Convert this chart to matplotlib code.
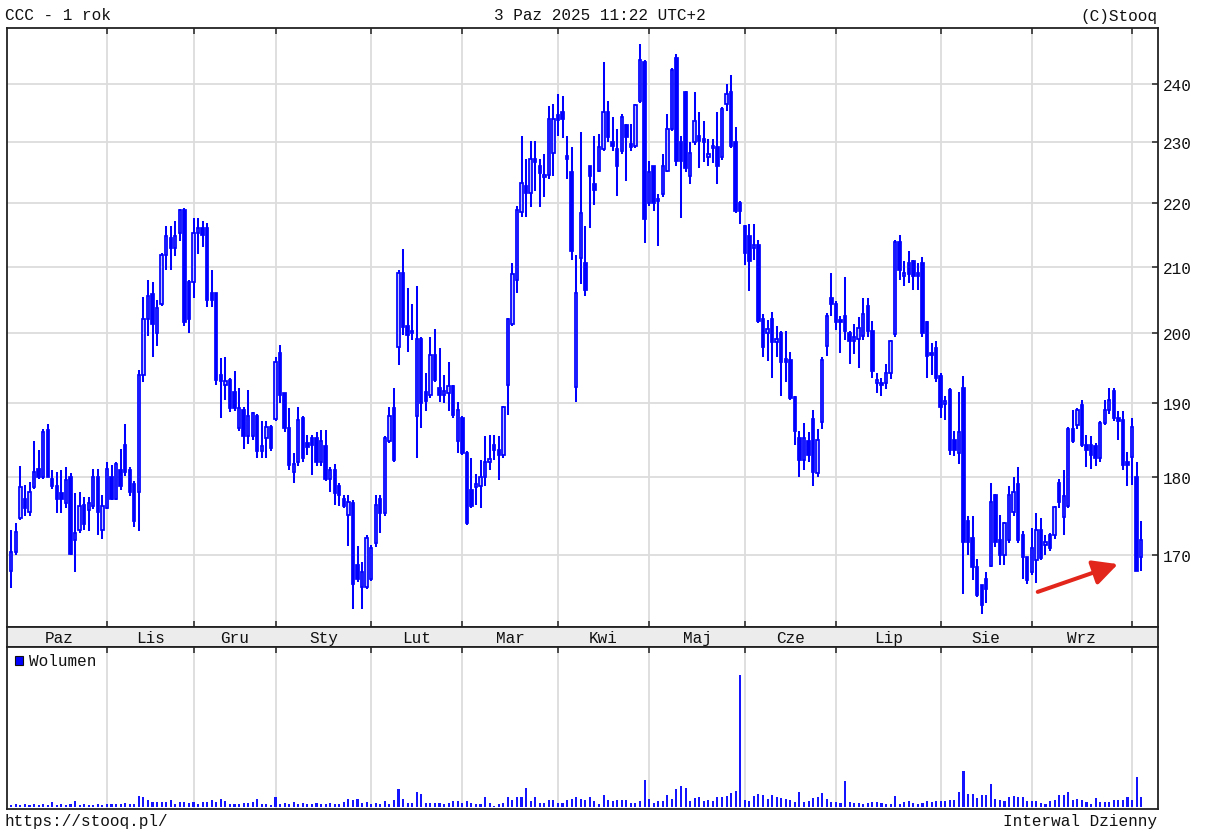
import numpy as np
import pandas as pd
import matplotlib
matplotlib.use("Agg")
import matplotlib.pyplot as plt
from matplotlib.patches import Rectangle
from matplotlib.ticker import NullLocator, FixedLocator, FixedFormatter

plt.rcParams['font.family'] = ['Liberation Mono', 'DejaVu Sans Mono']

# ---------------- data ----------------
TITLE = "CCC - 1 rok"
STAMP = "3 Paz 2025 11:22 UTC+2"
COPYRIGHT = "(C)Stooq"
URL = "https://stooq.pl/"
INTERVAL = "Interwal Dzienny"
VOLUME_LABEL = "Wolumen"

START, END = "2024-10-03", "2025-10-03"
HOLIDAYS = ["2024-11-01", "2024-11-11", "2024-12-24", "2024-12-25", "2024-12-26",
            "2024-12-31", "2025-01-01", "2025-01-06", "2025-04-18", "2025-04-21",
            "2025-05-01", "2025-06-19", "2025-08-15"]
MONTH_NAMES = {10: "Paz", 11: "Lis", 12: "Gru", 1: "Sty", 2: "Lut", 3: "Mar",
               4: "Kwi", 5: "Maj", 6: "Cze", 7: "Lip", 8: "Sie", 9: "Wrz"}
PRICE_TICKS = [170, 180, 190, 200, 210, 220, 230, 240]

OPEN = [
    168.0, 170.4, 174.7, 177.2, 175.5, 178.7, 181.1, 180.0, 186.3, 179.8, 178.9, 177.9, 176.6, 180.0, 171.9, 173.2, 176.4, 175.7, 176.2, 180.0, 173.2,
    176.0, 180.0, 177.2, 180.9, 184.3, 180.9, 179.1, 178.1, 194.0, 202.1, 205.8, 200.1, 204.3, 211.8, 214.5, 212.9, 215.3, 218.9, 207.6,
    207.6, 215.3, 216.0, 216.1, 206.0, 206.0, 194.0, 192.6, 193.3, 191.6, 186.6, 189.1, 185.5, 185.5, 188.2, 183.5, 185.2, 186.8,
    187.9, 197.1, 191.4, 186.6, 180.7, 182.0, 188.0, 184.5, 185.2, 185.2, 182.0, 184.1, 179.8, 180.9, 178.9, 177.2, 175.1, 176.6, 168.8, 166.1, 166.1,
    167.1, 171.5, 177.2, 175.3, 184.8, 189.3, 198.0, 209.0, 201.1, 200.2, 188.2, 199.2, 191.6, 191.2, 196.8, 192.1, 191.2, 191.5, 192.4, 184.8,
    188.0, 183.2, 178.3, 178.7, 178.9, 180.0, 182.0, 184.3, 183.6, 183.0, 192.5, 201.4, 208.0, 218.6, 222.8, 221.7, 227.3, 226.0, 224.2, 224.6, 228.2,
    234.6, 235.1, 227.8, 225.0, 192.3, 211.3, 210.5, 226.0, 223.1, 225.3, 228.9, 235.1, 230.0, 228.9, 228.6, 232.9, 229.7, 229.4, 237.1, 244.0,
    220.0, 226.1, 220.3, 221.4, 225.3, 232.3, 244.6, 230.0, 238.6, 224.4, 230.0, 231.1, 230.6, 227.5, 229.0, 229.2, 227.5, 236.6, 238.6, 230.0, 220.0,
    216.3, 214.7, 212.9, 213.4, 202.1, 200.0, 202.1, 198.7, 200.1, 196.1, 196.1, 190.9, 185.2, 182.3, 184.8, 187.9, 180.5, 187.4, 198.1, 205.3,
    204.3, 201.8, 202.6, 200.1, 198.9, 199.1, 199.6, 204.1, 200.3, 192.8, 192.8, 192.8, 194.3, 199.9, 213.9, 208.5, 210.5, 210.8, 209.0, 210.5, 201.6, 197.0, 197.9,
    193.8, 189.9, 191.9, 185.0, 183.2, 192.1, 174.3, 172.1, 168.6, 166.3, 167.1, 168.7, 177.7, 171.9, 170.0, 171.9, 175.5, 179.1, 172.6, 169.8,
    167.9, 169.4, 173.2, 171.3, 172.6, 172.6, 179.3, 174.8, 176.3, 186.4, 187.0, 189.8, 184.3, 184.3, 184.1, 182.5, 187.3, 189.1, 191.7, 188.0, 187.7, 182.0,
    182.7, 180.0, 169.8]

HIGH = [
    173.2, 174.0, 181.5, 179.0, 179.4, 184.8, 183.6, 186.5, 187.1, 180.9, 180.7, 180.9, 181.4, 180.5, 177.9, 178.1, 177.4, 177.4, 181.1, 181.1, 177.7,
    182.0, 181.6, 182.0, 183.8, 187.2, 181.4, 179.5, 194.7, 205.4, 208.0, 207.6, 205.0, 212.1, 216.3, 216.3, 217.1, 219.0, 219.2, 208.0,
    217.6, 217.6, 217.1, 216.8, 209.5, 206.0, 196.4, 196.6, 193.5, 194.5, 192.1, 189.5, 191.9, 188.8, 188.5, 187.5, 187.5, 187.0,
    196.6, 198.3, 191.5, 189.3, 183.2, 189.5, 188.2, 185.7, 185.7, 186.1, 186.3, 186.3, 181.4, 181.8, 179.3, 177.7, 177.7, 177.0, 171.1, 169.2, 172.6,
    171.3, 177.7, 177.7, 185.5, 189.5, 192.1, 209.5, 212.7, 206.8, 204.3, 207.0, 199.4, 194.3, 199.4, 200.6, 197.8, 194.0, 195.8, 192.6, 190.2,
    188.2, 183.5, 182.5, 180.4, 182.3, 185.5, 185.7, 185.7, 185.5, 189.7, 202.3, 210.5, 219.5, 231.1, 227.2, 230.3, 230.3, 227.3, 228.0, 236.3, 236.6,
    238.3, 238.0, 231.1, 229.2, 211.8, 231.7, 216.3, 226.1, 231.1, 231.4, 244.0, 237.1, 234.3, 232.3, 234.9, 233.1, 233.1, 236.6, 247.1, 244.3,
    226.9, 226.1, 221.4, 228.0, 234.9, 242.9, 245.4, 231.1, 238.9, 230.0, 238.6, 235.1, 233.7, 230.6, 230.6, 235.1, 236.0, 240.0, 241.7, 232.6, 220.3,
    216.5, 216.7, 216.6, 214.2, 202.8, 202.0, 203.1, 201.0, 200.3, 200.4, 197.3, 191.0, 186.2, 187.3, 186.1, 189.1, 186.4, 196.6, 203.0, 209.0,
    204.8, 202.6, 208.4, 200.3, 201.4, 202.4, 205.3, 205.3, 201.8, 194.2, 193.5, 195.6, 199.0, 214.2, 215.0, 210.8, 212.4, 211.0, 210.5, 211.5, 201.8, 198.6, 198.9,
    194.3, 191.0, 192.1, 186.2, 191.6, 193.8, 175.0, 175.0, 169.5, 166.3, 167.9, 179.3, 177.8, 175.1, 174.2, 178.8, 180.0, 181.3, 173.0, 169.8,
    173.4, 175.3, 174.7, 172.6, 172.8, 176.3, 179.8, 180.9, 186.8, 189.1, 189.3, 190.5, 185.7, 185.5, 184.5, 187.5, 190.5, 192.1, 192.1, 189.0, 189.0, 183.4,
    188.0, 182.0, 174.3]

LOW = [
    166.0, 170.0, 174.5, 175.0, 175.0, 178.5, 179.8, 179.8, 180.0, 178.5, 175.3, 175.3, 176.0, 170.0, 167.9, 172.8, 173.2, 173.0, 175.8, 172.6, 172.0,
    175.8, 177.0, 177.0, 178.3, 180.2, 177.5, 173.6, 173.0, 193.0, 199.6, 196.6, 198.2, 204.0, 209.5, 209.5, 211.6, 214.0, 201.0, 200.1,
    205.3, 212.0, 213.0, 203.9, 203.9, 192.5, 188.0, 190.5, 188.8, 189.0, 186.2, 183.7, 184.4, 185.0, 182.6, 182.6, 182.6, 183.5,
    187.5, 190.0, 186.0, 181.0, 179.3, 181.5, 182.0, 183.0, 180.3, 181.5, 181.5, 179.5, 178.1, 176.4, 176.2, 176.0, 171.1, 163.4, 166.7, 163.4, 165.8,
    166.8, 171.0, 172.8, 175.0, 184.5, 182.0, 195.4, 199.7, 197.3, 199.0, 182.5, 186.6, 189.0, 190.8, 193.0, 190.2, 190.0, 189.0, 188.0, 183.2,
    183.0, 173.8, 176.0, 176.4, 176.0, 178.9, 181.0, 182.3, 179.6, 182.5, 188.4, 201.0, 206.0, 217.8, 217.8, 219.4, 222.0, 219.4, 221.0, 224.0, 224.4,
    231.0, 230.8, 223.9, 211.1, 190.2, 207.3, 205.5, 216.0, 219.7, 225.0, 228.5, 230.0, 228.5, 221.1, 228.0, 223.6, 228.5, 229.0, 236.8, 213.7,
    219.5, 218.7, 213.2, 221.0, 225.0, 232.0, 226.0, 217.6, 225.0, 223.1, 229.5, 225.8, 226.7, 226.0, 226.5, 223.1, 227.0, 235.4, 229.0, 218.4, 216.6,
    210.3, 206.3, 211.0, 201.5, 196.6, 196.0, 193.5, 196.5, 191.0, 193.0, 190.5, 184.3, 180.0, 180.9, 182.0, 178.9, 180.0, 186.4, 196.7, 202.5,
    200.5, 197.1, 199.0, 195.6, 197.0, 195.0, 199.0, 199.5, 193.6, 191.4, 191.0, 192.0, 193.4, 199.5, 208.0, 207.0, 207.5, 206.5, 206.5, 199.5, 193.6, 194.0, 193.0,
    188.0, 187.7, 183.0, 182.8, 181.8, 165.3, 170.0, 167.0, 164.9, 162.8, 164.1, 168.5, 171.0, 168.8, 168.8, 171.5, 175.0, 171.5, 167.1, 166.5,
    167.5, 166.6, 169.4, 170.0, 170.5, 172.0, 176.0, 172.6, 176.0, 184.5, 186.5, 184.0, 181.4, 181.1, 181.5, 182.0, 187.0, 188.5, 187.5, 185.0, 181.0, 178.9,
    179.0, 168.0, 168.1]

CLOSE = [
    170.4, 172.9, 178.7, 176.0, 178.1, 180.7, 180.0, 186.1, 180.0, 178.9, 177.2, 177.2, 179.6, 170.2, 172.8, 176.2, 173.9, 176.6, 180.0, 175.5, 176.2,
    181.1, 177.2, 181.8, 178.9, 180.7, 178.1, 174.3, 194.0, 202.1, 205.6, 201.3, 203.8, 211.8, 214.7, 212.9, 214.7, 218.9, 201.6, 202.1,
    215.3, 216.0, 215.0, 205.0, 205.0, 193.3, 193.1, 193.1, 189.3, 189.3, 189.3, 185.5, 188.2, 188.6, 183.5, 184.1, 186.8, 183.9,
    195.9, 191.2, 186.6, 181.6, 181.8, 187.7, 182.5, 184.0, 184.3, 182.0, 184.8, 179.8, 180.9, 177.9, 177.7, 176.2, 176.8, 166.5, 167.1, 167.9, 172.1,
    170.9, 176.4, 175.3, 185.2, 188.2, 182.3, 209.0, 200.9, 199.7, 200.0, 199.2, 190.0, 190.3, 196.8, 193.3, 191.2, 191.7, 192.4, 188.4, 189.1,
    183.2, 174.0, 176.2, 178.9, 180.0, 182.0, 182.2, 183.6, 183.0, 189.5, 202.1, 208.8, 218.9, 223.3, 221.7, 227.2, 226.7, 224.9, 224.6, 234.0, 234.0,
    233.8, 234.0, 227.2, 212.4, 206.0, 218.4, 206.5, 224.4, 222.2, 229.2, 235.1, 230.9, 229.4, 226.1, 234.3, 230.9, 229.3, 236.4, 244.3, 217.4,
    225.0, 220.0, 220.6, 226.1, 232.3, 242.6, 226.9, 226.9, 225.8, 228.3, 233.7, 230.3, 230.0, 228.1, 229.4, 226.1, 235.7, 238.3, 229.4, 218.7, 218.7,
    212.1, 210.8, 213.2, 201.8, 198.0, 200.6, 198.7, 199.2, 195.9, 195.9, 190.7, 186.2, 182.3, 185.2, 183.0, 180.7, 185.0, 196.1, 202.6, 204.3,
    201.6, 201.6, 200.3, 198.9, 199.4, 200.8, 202.8, 200.3, 194.5, 193.3, 192.5, 194.2, 198.9, 213.9, 209.5, 209.0, 208.8, 208.5, 208.6, 200.1, 196.7, 196.8, 193.6,
    189.5, 190.2, 183.6, 183.6, 186.1, 171.7, 171.7, 168.6, 165.1, 163.9, 165.9, 176.8, 171.7, 170.0, 174.0, 177.7, 178.0, 171.9, 169.8, 166.9,
    170.9, 173.2, 169.6, 171.7, 170.9, 176.1, 176.8, 177.5, 186.4, 184.8, 189.1, 184.3, 183.6, 182.9, 182.5, 187.3, 189.1, 190.5, 188.0, 187.5, 181.6, 181.6,
    186.8, 168.1, 171.9]

# volume (tys. szt.)
VOLUME = [
    20, 30, 20, 30, 20, 30, 20, 30, 20, 50, 20, 30, 20, 30, 60, 20, 30, 20, 20, 30, 20,
    30, 30, 30, 30, 40, 30, 30, 110, 100, 70, 50, 50, 50, 50, 70, 30, 50, 50, 40,
    50, 30, 50, 50, 70, 50, 80, 60, 30, 30, 30, 40, 40, 50, 80, 30, 30, 20,
    100, 30, 40, 30, 50, 30, 40, 30, 30, 40, 30, 30, 40, 30, 30, 50, 80, 70, 80, 40, 50,
    27, 43, 33, 60, 33, 73, 180, 77, 43, 43, 150, 133, 43, 43, 43, 43, 27, 43, 60, 60,
    43, 60, 43, 33, 33, 100, 43, 10, 27, 43, 100, 73, 100, 100, 190, 60, 100, 43, 43, 73, 73,
    43, 43, 73, 83, 100, 83, 73, 100, 57, 27, 117, 73, 60, 73, 73, 73, 43, 43, 60, 270,
    83, 43, 60, 60, 117, 83, 183, 207, 193, 60, 93, 100, 60, 73, 60, 100, 100, 110, 140, 160, 1320,
    73, 60, 110, 133, 117, 83, 117, 100, 93, 83, 73, 50, 150, 50, 60, 93, 100, 140, 83, 50,
    50, 43, 257, 50, 43, 43, 33, 43, 50, 50, 43, 33, 27, 110, 33, 50, 60, 43, 27, 43, 60, 50, 60,
    60, 60, 67, 73, 150, 360, 133, 133, 93, 117, 117, 227, 83, 73, 60, 100, 110, 100, 100, 60,
    60, 60, 43, 33, 60, 67, 117, 117, 150, 73, 83, 67, 50, 33, 93, 50, 50, 50, 73, 73, 73, 100,
    67, 300, 100]

# ---------------- preparation ----------------
n = len(CLOSE)
dates = pd.bdate_range(START, END)
dates = dates[~dates.isin(pd.to_datetime(HOLIDAYS))][:n]
x = np.arange(n)
O = np.array(OPEN, float)
C = np.array(CLOSE, float)
Hh = np.maximum.reduce([np.array(HIGH, float), O, C])
Ll = np.minimum.reduce([np.array(LOW, float), O, C])
V = np.array(VOLUME, float)

mid = np.asarray(dates.year * 12 + dates.month)
starts = [0] + [i for i in range(1, len(mid)) if mid[i] != mid[i - 1]]
grid_pos = starts[1:]
labels = []
for k in range(len(starts) - 1):
    s, e = starts[k], starts[k + 1]
    labels.append(((s + e) / 2.0, MONTH_NAMES[dates[s].month]))

# ---------------- figure ----------------
W, HP = 1209, 837
fig = plt.figure(figsize=(W / 100, HP / 100), dpi=100, facecolor="white")


def frac(x0, y0, x1, y1):
    return [x0 / W, 1 - y1 / HP, (x1 - x0) / W, (y1 - y0) / HP]


BLUE = "#0000ff"
HOLLOW = "#c6c6ff"
GRID = "#dcdcdc"
FRAME = "#222222"
TXT = "#111111"
FS = 11.5
XL = (-0.94, 251.7)

# price panel
ax = fig.add_axes(frac(7, 29, 1158, 628))
ax.set_yscale("log")
ax.set_ylim(161.3, 250.1)
ax.set_xlim(*XL)
ax.yaxis.set_major_locator(FixedLocator(PRICE_TICKS))
ax.yaxis.set_major_formatter(FixedFormatter([str(t) for t in PRICE_TICKS]))
ax.yaxis.set_minor_locator(NullLocator())
ax.xaxis.set_major_locator(FixedLocator(grid_pos))
ax.xaxis.set_minor_locator(NullLocator())
ax.grid(True, color=GRID, lw=1.3)
ax.set_axisbelow(True)
ax.yaxis.tick_right()
ax.tick_params(axis="y", which="both", direction="in", length=4.5, width=1.1,
               color=FRAME, labelsize=FS, labelcolor=TXT, pad=3.5,
               left=False, right=True)
ax.tick_params(axis="x", direction="in", length=4, width=1.1, color=FRAME,
               top=True, bottom=True, labelbottom=False)
for s in ax.spines.values():
    s.set_color(FRAME)
    s.set_linewidth(1.3)

ax.vlines(x, Ll, Hh, colors=BLUE, lw=1.45, zorder=2)
up = C >= O
bot = np.minimum(O, C)
ht = np.maximum(np.abs(C - O), 0.4)
ax.bar(x[up], ht[up], bottom=bot[up], width=0.52, color=HOLLOW,
       edgecolor=BLUE, lw=1.25, zorder=3)
ax.bar(x[~up], ht[~up], bottom=bot[~up], width=0.52, color=BLUE,
       edgecolor=BLUE, lw=1.25, zorder=3)

# red arrow
ax.annotate("", xy=(242.9, 168.9), xytext=(225.3, 165.5),
            arrowprops=dict(arrowstyle="-|>,head_length=0.75,head_width=0.38",
                            color="#e3261c", lw=2.9, shrinkA=0, shrinkB=0,
                            mutation_scale=20), zorder=6)

# month band
band = fig.add_axes(frac(7, 628, 1158, 648))
band.set_xlim(*XL)
band.set_ylim(0, 1)
band.set_facecolor("#ececec")
band.set_xticks([])
band.set_yticks([])
for s in band.spines.values():
    s.set_color(FRAME)
    s.set_linewidth(1.3)
for pos, name in labels:
    band.text(pos, 0.45, name, ha="center", va="center", fontsize=FS, color=TXT)

# volume panel
axv = fig.add_axes(frac(7, 648, 1158, 810))
axv.bar(x, V, width=0.46, color="#1414ff", zorder=2)
axv.set_xlim(*XL)
vtop = V.max() * 160 / 132
axv.set_ylim(-vtop * 2 / 160, vtop)
axv.xaxis.set_major_locator(FixedLocator(grid_pos))
axv.set_yticks([])
axv.grid(True, axis="x", color=GRID, lw=1.3)
axv.set_axisbelow(True)
axv.tick_params(axis="x", direction="in", length=4, width=1.1, color=FRAME,
                top=True, bottom=False, labelbottom=False)
for s in axv.spines.values():
    s.set_color(FRAME)
    s.set_linewidth(1.3)

fig.patches.append(Rectangle((15 / W, 1 - 666 / HP), 8 / W, 9 / HP,
                             transform=fig.transFigure, facecolor=BLUE,
                             edgecolor="#111111", lw=0.8))
fig.text(29 / W, 1 - 662 / HP, VOLUME_LABEL, ha="left", va="center", fontsize=FS, color=TXT)

# header / footer
fig.text(5 / W, 1 - 16 / HP, TITLE, ha="left", va="center", fontsize=FS, color=TXT)
fig.text(600 / W, 1 - 16 / HP, STAMP, ha="center", va="center", fontsize=FS, color=TXT)
fig.text(1157 / W, 1 - 16 / HP, COPYRIGHT, ha="right", va="center", fontsize=FS, color=TXT)
fig.text(5 / W, 1 - 822 / HP, URL, ha="left", va="center", fontsize=FS, color=TXT)
fig.text(1157 / W, 1 - 822 / HP, INTERVAL, ha="right", va="center", fontsize=FS, color=TXT)

fig.savefig("out.png", dpi=100, facecolor="white")
